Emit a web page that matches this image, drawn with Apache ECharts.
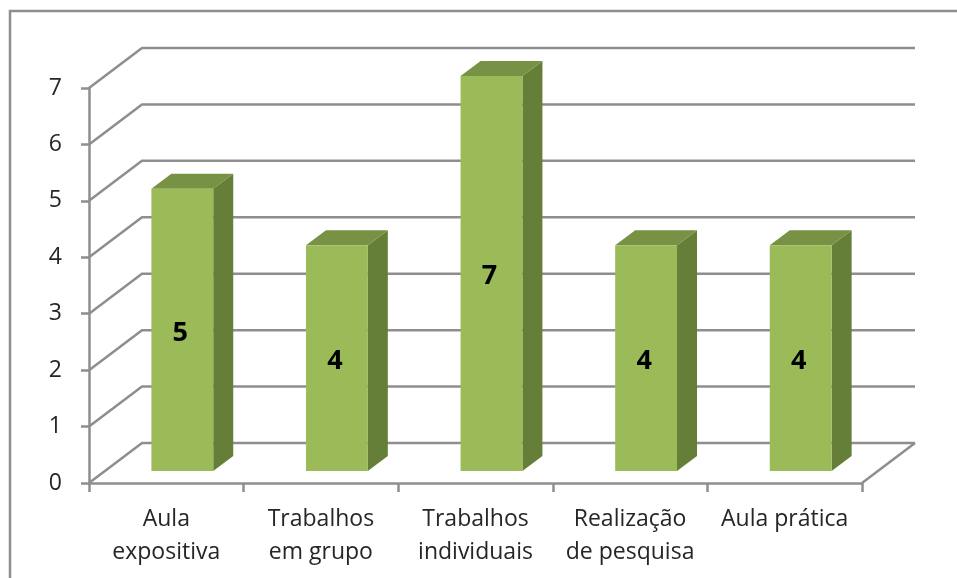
<!DOCTYPE html>
<html>
<head>
<meta charset="utf-8">
<style>
  html, body { margin: 0; padding: 0; background: #fff; }
  #chart { width: 957px; height: 578px; }
</style>
<script src="https://cdn.jsdelivr.net/npm/echarts@6/dist/echarts.min.js"></script>
</head>
<body>
<div id="chart"></div>
<script>
const categories = ['Aula\nexpositiva', 'Trabalhos\nem grupo', 'Trabalhos\nindividuais', 'Realização\nde pesquisa', 'Aula prática']
const values = [5, 4, 7, 4, 4]
const yTicks = [0, 1, 2, 3, 4, 5, 6, 7]

const gray = '#8e8e8e'
const lineW = 2.5
const wallDx = 53
const wallDy = -40
const barShiftX = 16
const barShiftY = -12
const barDepthX = 20
const barDepthY = -15

const myChart = echarts.init(document.getElementById('chart'), null, { renderer: 'canvas' })

function renderWall (params, api) {
  const area = params.coordSys
  const y = api.coord([0, api.value(0)])[1]
  const left = area.x
  const right = area.x + area.width
  const children = [{
    type: 'polyline',
    shape: { points: [[left, y], [left + wallDx, y + wallDy], [right + wallDx, y + wallDy]] },
    style: { fill: null, stroke: gray, lineWidth: lineW }
  }]
  if (api.value(0) === 0) {
    children.push({
      type: 'line',
      shape: { x1: right, y1: y, x2: right + wallDx, y2: y + wallDy },
      style: { stroke: gray, lineWidth: lineW }
    })
  }
  return { type: 'group', children }
}

function renderBar (params, api) {
  const idx = api.value(0)
  const value = api.value(1)
  const top = api.coord([idx, value])
  const base = api.coord([idx, 0])
  const w = api.size([1, 0])[0] * 0.4
  const x0 = top[0] + barShiftX - w / 2
  const x1 = x0 + w
  const y0 = top[1] + barShiftY
  const y1 = base[1] + barShiftY
  return {
    type: 'group',
    children: [
      {
        type: 'polygon',
        shape: { points: [[x1, y0], [x1 + barDepthX, y0 + barDepthY], [x1 + barDepthX, y1 + barDepthY], [x1, y1]] },
        style: { fill: '#667f38' }
      },
      {
        type: 'polygon',
        shape: { points: [[x0, y0], [x0 + barDepthX, y0 + barDepthY], [x1 + barDepthX, y0 + barDepthY], [x1, y0]] },
        style: { fill: '#779145' }
      },
      {
        type: 'rect',
        shape: { x: x0, y: y0, width: w, height: y1 - y0 },
        style: { fill: '#9bbb59' }
      },
      {
        type: 'text',
        style: {
          x: x0 + w / 2 - 2,
          y: (y0 + y1) / 2 + 3,
          text: String(value),
          align: 'center',
          verticalAlign: 'middle',
          fill: '#000',
          font: 'bold 27px "Open Sans"'
        }
      }
    ]
  }
}

myChart.setOption({
  animation: false,
  backgroundColor: '#fff',
  grid: { left: 89, top: 88, width: 773, height: 395 },
  graphic: [{
    type: 'polyline',
    shape: { points: [[10, 578], [10, 11], [957, 11]] },
    style: { fill: null, stroke: gray, lineWidth: lineW }
  }],
  xAxis: {
    type: 'category',
    data: categories,
    axisLine: { lineStyle: { color: gray, width: lineW } },
    axisTick: { show: true, alignWithLabel: false, length: 9, lineStyle: { color: gray, width: lineW } },
    axisLabel: { color: '#262626', fontFamily: 'Open Sans', fontSize: 23, lineHeight: 33, margin: 20, interval: 0 }
  },
  yAxis: {
    type: 'value',
    min: 0,
    max: 7,
    interval: 1,
    splitLine: { show: false },
    axisLine: { show: true, lineStyle: { color: gray, width: lineW } },
    axisTick: { show: true, length: 8, lineStyle: { color: gray, width: lineW } },
    axisLabel: { color: '#262626', fontFamily: 'Open Sans', fontSize: 23, margin: 27, padding: [6, 0, 0, 0] }
  },
  series: [
    {
      type: 'custom',
      coordinateSystem: 'cartesian2d',
      clip: false,
      z: 1,
      silent: true,
      encode: { y: 0 },
      data: yTicks.map(v => [v]),
      renderItem: renderWall
    },
    {
      type: 'custom',
      coordinateSystem: 'cartesian2d',
      clip: false,
      z: 3,
      encode: { x: 0, y: 1 },
      data: values.map((v, i) => [i, v]),
      renderItem: renderBar
    }
  ]
})
</script>
</body>
</html>
